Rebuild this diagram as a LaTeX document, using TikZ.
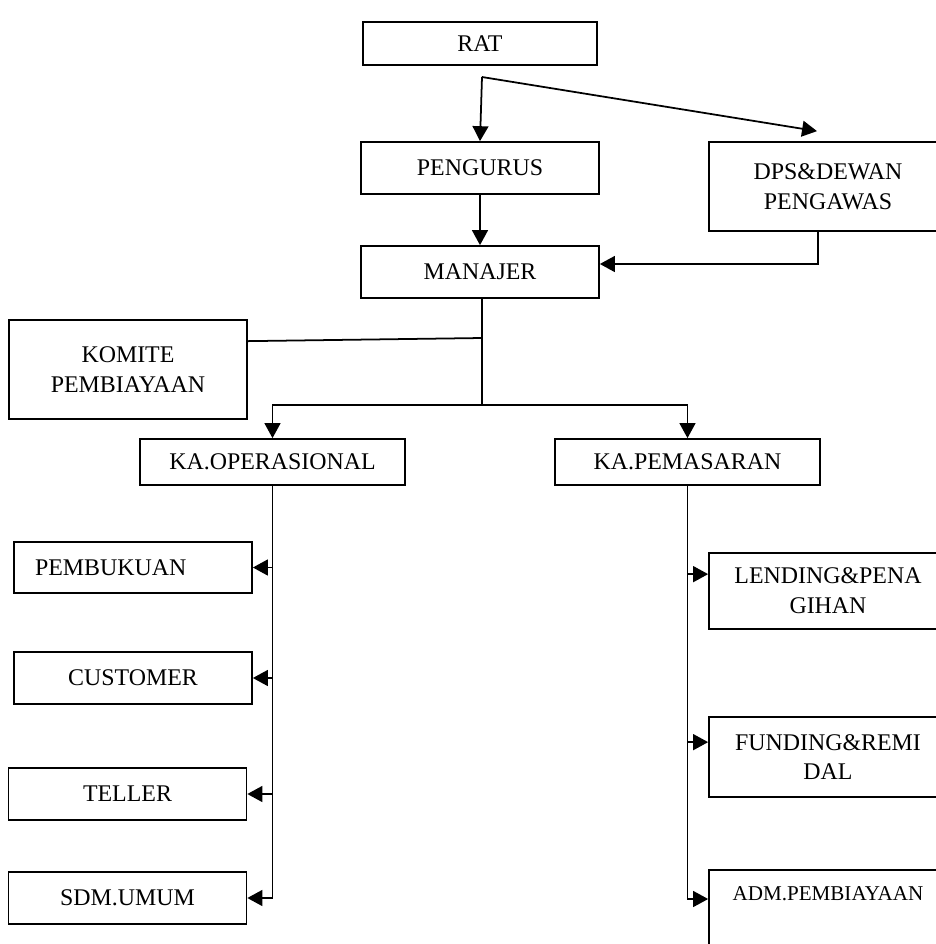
\documentclass[tikz,border=0pt]{standalone}
\usepackage{fontspec}
\setmainfont{Liberation Serif}
\usetikzlibrary{calc,arrows.meta}

\begin{document}
\begin{tikzpicture}[x=0.02cm,y=-0.02cm,font=\fontsize{13.6}{17}\selectfont]
    \tikzstyle{box}=[draw,line width=1pt,align=center,inner sep=0,minimum width=4.76cm,minimum height=1.04cm]
    \tikzstyle{line}=[line width=1pt]
    \tikzstyle{arr}=[line width=1pt,-{Triangle[length=8.5pt,width=9pt]}]

    \useasboundingbox (0,0) rectangle (936,944);
    \clip (0,0) rectangle (936,944);

    \node(rat)[box,minimum width=4.68cm,minimum height=0.86cm] at (480,43.5) {RAT};
    \node(pengurus)[box] at (480,168) {PENGURUS};
    \node(dps)[box,minimum width=4.76cm,minimum height=1.78cm] at (828,186.5) {DPS\&DEWAN\\PENGAWAS};
    \node(manajer)[box] at (480,272) {MANAJER};
    \node(komite)[box,minimum height=1.98cm] at (128,369.5) {KOMITE\\PEMBIAYAAN};
    \node(kaops)[box,minimum width=5.3cm,minimum height=0.92cm] at (272.5,462) {KA.OPERASIONAL};
    \node(kapms)[box,minimum width=5.3cm,minimum height=0.92cm] at (687.5,462) {KA.PEMASARAN};

    % bagian operasional
    \node(pembukuan)[box,text width=3.92cm,align=left,inner xsep=0.42cm,minimum height=1.02cm] at (133,567.5) {PEMBUKUAN};
    \node(customer)[box] at (133,678) {CUSTOMER};
    \node(teller)[box] at (127.5,794) {TELLER};
    \node(sdm)[box] at (127.5,898) {SDM.UMUM};

    % bagian pemasaran
    \node(lending)[box,minimum height=1.52cm] at (828,591) {LENDING\&PENA\\GIHAN};
    \node(funding)[box,minimum height=1.6cm] at (828,757) {FUNDING\&REMI\\DAL};
    \node(adm)[box,anchor=north,text height=0.62cm,text depth=1.6cm] at (828,869) {\fontsize{12}{14}\selectfont ADM.PEMBIAYAAN};

    \coordinate(split) at (482,77);
    \coordinate(kmt) at (482,338);
    \coordinate(hub) at (482,405);

    \draw[arr] (split) -- (pengurus.north);
    \draw[arr] (split) -- ($(dps.north)+(-11,-10)$);
    \draw[arr] (pengurus) -- (manajer);
    \draw[arr] ($(dps.south)+(-10,0)$) |- ($(manajer.east)+(0,-8)$);
    \draw[line] (manajer.south -| hub) -- (hub);
    \draw[line] ($(komite.north east)+(0,22)$) -- (kmt);
    \draw[arr] (hub) -| (kaops.north);
    \draw[arr] (hub) -| (kapms.north);

    \draw[line] (kaops.south) -- (kaops.south |- sdm.east);
    \draw[arr] (kaops.south |- pembukuan.east) -- (pembukuan.east);
    \draw[arr] (kaops.south |- customer.east) -- (customer.east);
    \draw[arr] (kaops.south |- teller.east) -- (teller.east);
    \draw[arr] (kaops.south |- sdm.east) -- (sdm.east);

    \draw[arr] (kapms.south) |- ($(adm.north west)+(0,30)$);
    \draw[arr] ($(kapms.south |- lending.north west)+(0,22)$) -- ($(lending.north west)+(0,22)$);
    \draw[arr] ($(kapms.south |- funding.north west)+(0,26)$) -- ($(funding.north west)+(0,26)$);
\end{tikzpicture}
\end{document}
